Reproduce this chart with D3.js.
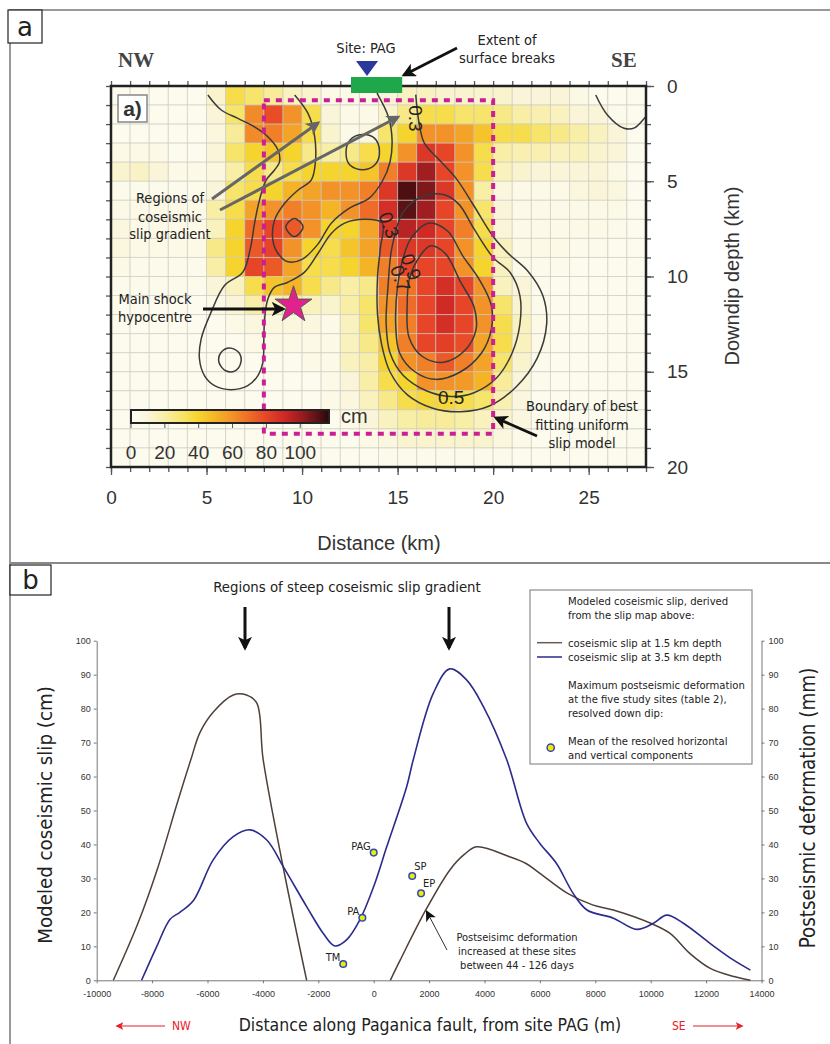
<!DOCTYPE html>
<html><head><meta charset="utf-8">
<script src="https://cdn.jsdelivr.net/npm/d3@7"></script>
<style>
body{margin:0;background:#fff;}
svg{display:block;}
.ann{font-family:'DejaVu Sans Condensed','DejaVu Sans',sans-serif;font-stretch:condensed;fill:#222;}
.hel{font-family:'Liberation Sans',Arial,sans-serif;fill:#333;}
</style></head>
<body><svg id="c" width="830" height="1044"></svg>
<script>
// ---------------- DATA ----------------
// Panel a: coseismic slip (cm), 1 km x 1 km cells, rows = depth 0..19 km, cols = distance 0..27 km
const slipGrid = [
 [3,3,3,3,3,12,35,30,22,15,12,5,5,5,10,15,15,12,12,12,12,10,10,10,6,3,3,3],
 [3,3,3,3,3,10,30,62,78,60,35,10,5,5,12,25,35,35,30,30,25,20,18,15,10,10,4,3],
 [3,3,3,3,3,8,22,62,65,55,35,12,5,8,30,40,60,60,55,45,35,35,30,25,20,15,10,3],
 [5,5,5,3,3,10,30,40,45,40,25,20,25,35,40,60,85,80,60,35,20,18,18,15,15,12,10,3],
 [12,14,10,5,5,8,20,35,25,35,40,40,40,45,65,85,100,80,60,35,15,12,10,10,10,10,5,3],
 [4,4,4,4,4,10,30,35,40,50,55,60,60,65,85,112,105,85,60,20,8,5,5,5,8,10,8,3],
 [5,5,5,5,5,20,35,55,60,65,60,50,60,70,88,110,100,80,60,30,10,5,5,5,5,5,5,3],
 [8,5,5,5,5,15,40,70,80,75,60,40,40,55,85,95,90,80,65,35,10,5,5,5,5,5,4,3],
 [8,5,5,5,5,25,40,75,80,60,40,35,45,55,75,85,85,80,60,40,15,5,5,5,4,4,3,3],
 [5,4,4,4,4,20,40,80,75,55,35,35,40,50,65,80,80,80,60,40,15,5,4,4,3,3,3,3],
 [4,4,4,4,4,10,15,35,45,50,35,25,20,25,65,68,80,88,80,60,15,10,4,3,3,3,3,3],
 [3,3,3,3,3,5,10,20,15,20,15,12,20,30,60,70,80,90,80,60,30,12,4,3,3,3,3,3],
 [3,3,3,3,3,3,5,8,8,8,8,5,15,30,55,65,80,88,80,60,35,15,5,3,3,3,3,3],
 [3,3,3,3,3,3,3,5,5,5,5,5,15,25,45,65,80,82,78,55,35,15,5,3,3,3,3,3],
 [3,3,3,3,3,3,3,3,3,3,5,5,15,20,40,60,65,75,65,55,30,12,4,3,3,3,3,3],
 [3,3,3,3,3,3,3,3,3,3,3,5,10,20,35,40,60,60,58,50,22,10,4,3,3,3,3,3],
 [3,3,3,3,3,3,3,3,3,3,3,5,8,15,25,35,38,38,35,30,18,8,3,3,3,3,3,3],
 [3,3,3,3,3,3,3,3,3,3,3,3,5,10,15,20,22,22,20,15,12,8,3,3,3,3,3,3],
 [3,3,3,3,3,3,3,3,3,3,3,3,3,5,8,12,12,12,12,12,8,5,3,3,3,3,3,3],
 [3,3,3,3,3,3,3,3,3,3,3,3,3,3,4,4,4,4,4,4,4,3,3,3,3,3,3,3]
];
const colorStops = [0,10,20,30,40,50,60,70,80,90,100,110,117];
const colorValues = ['#fdfdf6','#faf5d8','#f8eea6','#f7e46a','#f6d42e','#f4b426','#f29228','#ee6c28','#e64528','#cf2a25','#a01d20','#5c1215','#260808'];
const colorbarTicks = [0,20,40,60,80,100];
const distTicksA = [0,5,10,15,20,25];
const depthTicksA = [0,5,10,15,20];
// contours [distance km, depth km]
const contourOuter03 = [[5.07,0.47],[5.77,1.26],[6.64,1.7],[7.51,2.14],[8.21,2.66],[8.74,3.36],[8.82,3.98],[8.56,4.41],[8.12,4.94],[7.77,5.99],[7.51,7.22],[7.3,8.5],[6.9,9.77],[5.94,10.47],[5.24,11.87],[4.72,13.27],[4.63,14.33],[4.89,15.2],[5.42,15.73],[6.29,15.94],[7.16,15.73],[7.69,15.2],[7.95,14.5],[8.0,13.27],[8.04,12.23],[8.21,11.18],[8.56,10.56],[9.26,10.3],[10.13,9.77],[10.83,8.79],[11.53,7.74],[12.23,7.2],[13.28,7.0],[14.2,7.2],[14.1,8.5],[13.95,10],[13.95,12],[14.15,13.5],[14.6,15.0],[15.5,16.2],[16.8,16.9],[18.3,17.1],[19.8,16.8],[21.2,15.8],[22.3,14.3],[22.8,12.5],[22.6,11],[21.8,9.7],[20.8,8.8],[20,7.9],[19.0,6.3],[18.1,4.9],[17.2,3.9],[16.4,3.0],[16.1,1.8],[15.95,0.45]];
const contourInner = [[9.61,0.47],[10.31,1.44],[10.66,2.66],[10.69,4.06],[10.48,4.94],[9.78,5.47],[9.08,6.17],[8.56,7.04],[8.47,8.09],[8.74,8.79],[9.26,9.23],[10.0,9.1],[10.83,8.3],[11.53,7.2],[12.5,6.4],[13.5,5.9],[14.2,5.0],[14.6,4.0],[14.71,2.84],[14.52,1.63],[13.92,0.38]];
const contour05 = [[15.3,6.6],[16.3,5.8],[17.4,5.7],[18.2,6.2],[19.0,7.5],[20.0,9.0],[20.9,9.8],[21.4,11],[21.4,12.5],[21.0,14],[20.2,15.3],[19.0,16.1],[17.8,16.3],[16.5,16.0],[15.3,15.2],[14.6,14],[14.4,12.5],[14.5,10.5],[14.7,8.5]];
const contour07 = [[15.7,8.0],[16.6,7.2],[17.6,7.6],[18.4,8.9],[19.3,10.2],[19.9,11.5],[19.9,12.8],[19.4,14],[18.3,15.0],[17.0,15.4],[15.9,15.0],[15.1,14.0],[14.9,12.5],[15.0,10.5],[15.3,9.0]];
const contour09 = [[16.0,9.2],[16.7,8.4],[17.5,8.8],[18.3,10.3],[19.0,11.6],[19.1,12.8],[18.5,13.9],[17.4,14.5],[16.3,14.2],[15.6,13.2],[15.5,11.5],[15.6,10.2]];
const contourCircleA = [[13.15,2.55],[13.8,2.75],[14.05,3.4],[13.85,4.1],[13.2,4.4],[12.5,4.15],[12.3,3.5],[12.5,2.85]];
const contourCircleB = [[6.2,13.75],[6.7,14.0],[6.8,14.5],[6.5,14.95],[6.0,14.95],[5.65,14.5],[5.75,14.0]];
const contourCircleC = [[9.6,6.95],[10.05,7.4],[9.6,7.9],[9.15,7.4]];
const contourCorner = [[25.37,0.47],[25.98,1.52],[26.85,2.22],[27.4,2.2],[28.0,1.58]];
const contourLabels = [
  {t:'0.3',x:15.95,d:1.7,r:90},{t:'0.3',x:14.55,d:7.3,r:70},
  {t:'0.7',x:15.15,d:10.1,r:70},{t:'0.9',x:15.7,d:9.5,r:70},{t:'0.5',x:17.8,d:16.35,r:0}];
const uniformBox = [8,0.75,20,18.25]; // x0, d0, x1, d1
const hypocentre = [9.55,11.5];
const sitePAG = 13.4;
const surfaceBreaks = [12.56,15.24];

// Panel b
const dist15a = [-9400,-8500,-7800,-7100,-6600,-6270,-5790,-5070,-4590,-4220,-3990,-3260,-2420];
const slip15a = [0,17,33,52,65,73,79,84,84,81.6,65,33,0];
const dist15b = [600,960,1900,2750,3260,3720,4900,5500,6000,7000,7900,8650,10000,10700,11400,12150,13000,13600];
const slip15b = [0,6,21,32.5,37,39.3,36.4,34.4,31.5,25.6,22.2,20.7,16.8,13.8,8,3.5,1.1,0];
const dist35 = [-8380,-7830,-7350,-7000,-6500,-5800,-5070,-4470,-3860,-3260,-2420,-1820,-1400,-980,-500,0,470,1190,1430,2150,2750,3360,3960,4800,5520,6000,6600,7200,7700,8650,9500,10100,10580,11180,12140,12980,13600];
const slip35 = [0,10,18,20,23.6,35.4,42.3,44.3,41.3,33.4,21.7,13.8,10.1,11.9,17.8,27.6,39.3,57,65,84.5,91.7,88.4,80.6,65,46.2,40.3,34.4,25.6,20.7,18.3,15,16.8,19.2,16.8,10.9,6,3];
const siteNames = ['TM','PA','PAG','SP','EP'];
const siteDist = [-1100,-410,0,1390,1710];
const siteDeform = [4.8,18.4,37.6,30.7,25.6];
const siteLabelSide = ['end','end','end','start','start'];
const xTicksB = [-10000,-8000,-6000,-4000,-2000,0,2000,4000,6000,8000,10000,12000,14000];
const yTicksB = [0,10,20,30,40,50,60,70,80,90,100];

// ---------------- DRAW ----------------
const svg = d3.select('#c');
svg.append('rect').attr('width',830).attr('height',1044).attr('fill','#fff');
const defs = svg.append('defs');
function marker(id,color,size){
  defs.append('marker').attr('id',id).attr('viewBox','0 0 10 10').attr('refX',8).attr('refY',5)
   .attr('markerWidth',size).attr('markerHeight',size).attr('orient','auto').attr('markerUnits','userSpaceOnUse')
   .append('path').attr('d','M0,0 L10,5 L0,10 L2.5,5 Z').attr('fill',color);
}
marker('mk',  '#111', 14);
marker('mg',  '#666', 14);
marker('mr',  '#e8202a', 8);
marker('ms',  '#111', 11);

// panel frames
svg.append('path').attr('d','M10,830 V10 H830').attr('fill','none').attr('stroke','#999').attr('stroke-width',2);
svg.append('line').attr('x1',10).attr('x2',830).attr('y1',563).attr('y2',563).attr('stroke','#888').attr('stroke-width',2);
svg.append('line').attr('x1',10).attr('x2',10).attr('y1',10).attr('y2',1044).attr('stroke','#999').attr('stroke-width',2);
function panelLabel(x,y,w,h,t){
  svg.append('rect').attr('x',x).attr('y',y).attr('width',w).attr('height',h).attr('fill','#fff').attr('stroke','#222').attr('stroke-width',1.2);
  svg.append('text').attr('x',x+w/2).attr('y',y+h/2+9).attr('text-anchor','middle')
   .style('font-family',"'DejaVu Sans',sans-serif").style('font-size','26px').style('fill','#222').text(t);
}
panelLabel(8,10,34,33,'a');
panelLabel(10,565,41,30,'b');

// ---- Panel a ----
const xA = d3.scaleLinear([0,28],[111,646]);
const yA = d3.scaleLinear([0,20],[86,467]);
const color = d3.scaleLinear(colorStops,colorValues).clamp(true);
const gA = svg.append('g');
slipGrid.forEach((row,j)=>row.forEach((v,i)=>{
  gA.append('rect').attr('x',xA(i)).attr('y',yA(j)).attr('width',xA(i+1)-xA(i)).attr('height',yA(j+1)-yA(j))
    .attr('fill',color(v)).attr('stroke','#c8c8c0').attr('stroke-opacity',0.6).attr('stroke-width',1);
}));

// contours
const lineA = d3.line().x(d=>xA(d[0])).y(d=>yA(d[1])).curve(d3.curveCatmullRom.alpha(0.5));
const lineAc = d3.line().x(d=>xA(d[0])).y(d=>yA(d[1])).curve(d3.curveCatmullRomClosed.alpha(0.5));
const cg = gA.append('g').attr('fill','none').attr('stroke','#3a3a3a').attr('stroke-width',1.5);
[contourOuter03,contourInner,contourCorner].forEach(c=>cg.append('path').attr('d',lineA(c)));
[contour05,contour07,contour09,contourCircleA,contourCircleB,contourCircleC].forEach(c=>cg.append('path').attr('d',lineAc(c)));
contourLabels.forEach(l=>{
  gA.append('text').attr('class','hel').attr('transform',`translate(${xA(l.x)},${yA(l.d)}) rotate(${l.r})`)
   .attr('text-anchor','middle').attr('dy','0.35em').style('font-size','19px').style('fill','#222').text(l.t);
});

// uniform slip box
gA.append('rect').attr('x',xA(uniformBox[0])).attr('y',yA(uniformBox[1]))
  .attr('width',xA(uniformBox[2])-xA(uniformBox[0])).attr('height',yA(uniformBox[3])-yA(uniformBox[1]))
  .attr('fill','none').attr('stroke','#cc1f95').attr('stroke-width',4).attr('stroke-dasharray','6,6');

// star
const star = d3.symbol().type(d3.symbolStar).size(420);
gA.append('path').attr('d',star()).attr('transform',`translate(${xA(hypocentre[0])},${yA(hypocentre[1])})`)
  .attr('fill','#e0228f').attr('stroke','#555').attr('stroke-width',1);

// colorbar
const cb = d3.scaleLinear([0,117],[131,329]);
const grad = defs.append('linearGradient').attr('id','cbg');
colorStops.forEach((s,i)=>grad.append('stop').attr('offset',(s/117*100)+'%').attr('stop-color',colorValues[i]));
gA.append('rect').attr('x',cb(0)).attr('y',410).attr('width',cb(117)-cb(0)).attr('height',13).attr('fill','url(#cbg)').attr('stroke','#222').attr('stroke-width',2);
colorbarTicks.forEach(t=>{
  gA.append('line').attr('x1',cb(t)).attr('x2',cb(t)).attr('y1',424).attr('y2',428).attr('stroke','#555');
  gA.append('text').attr('class','hel').attr('x',cb(t)).attr('y',459).attr('text-anchor','middle').style('font-size','19px').text(t);
});
gA.append('text').attr('class','hel').attr('x',341).attr('y',423).style('font-size','20px').text('cm');

// frame + ticks
const tickStyle = s=>s.selectAll('line').attr('stroke','#555').attr('stroke-width',1.3);
const minor = d3.range(0,29);
const axB = svg.append('g').attr('transform','translate(0,467)').call(d3.axisBottom(xA).tickValues(minor).tickSize(5).tickFormat(''));
const axT = svg.append('g').attr('transform','translate(0,86)').call(d3.axisTop(xA).tickValues(minor).tickSize(5).tickFormat(''));
const axL = svg.append('g').attr('transform','translate(111,0)').call(d3.axisLeft(yA).tickValues(d3.range(0,21)).tickSize(5).tickFormat(''));
const axR = svg.append('g').attr('transform','translate(646,0)').call(d3.axisRight(yA).tickValues(d3.range(0,21)).tickSize(5).tickFormat(''));
const axB5 = svg.append('g').attr('transform','translate(0,467)').call(d3.axisBottom(xA).tickValues(distTicksA).tickSize(8).tickPadding(16));
const axR5 = svg.append('g').attr('transform','translate(646,0)').call(d3.axisRight(yA).tickValues(depthTicksA).tickSize(8).tickPadding(13));
[axB,axT,axL,axR,axB5,axR5].forEach(a=>{a.select('.domain').remove(); tickStyle(a);});
[axB5,axR5].forEach(a=>a.selectAll('text').attr('class','hel').style('font-size','19px').style('fill','#333').attr('font-family',null));
svg.append('rect').attr('x',111).attr('y',86).attr('width',535).attr('height',381).attr('fill','none').attr('stroke','#222').attr('stroke-width',2.5);

// a) box
svg.append('rect').attr('x',118).attr('y',95).attr('width',29).attr('height',27).attr('fill','#fff').attr('stroke','#888').attr('stroke-width',1.5);
svg.append('text').attr('class','hel').attr('x',132.5).attr('y',116).attr('text-anchor','middle').style('font-size','21px').style('font-weight','bold').style('fill','#333').text('a)');

// axis titles
svg.append('text').attr('class','hel').attr('x',379).attr('y',550).attr('text-anchor','middle').style('font-size','20px').text('Distance (km)');
svg.append('text').attr('class','hel').attr('transform','translate(739,276) rotate(-90)').attr('text-anchor','middle').style('font-size','20px').text('Downdip depth (km)');
const serif = s=>s.style('font-family',"'Liberation Serif','Times New Roman',serif").style('font-size','21px').style('font-weight','bold').style('fill','#444');
svg.append('text').attr('x',118).attr('y',67).call(serif).text('NW');
svg.append('text').attr('x',611).attr('y',67).call(serif).text('SE');

// site + surface breaks
svg.append('rect').attr('x',xA(surfaceBreaks[0])).attr('y',77).attr('width',xA(surfaceBreaks[1])-xA(surfaceBreaks[0])).attr('height',16).attr('fill','#1ea84b');
svg.append('path').attr('d',`M${xA(sitePAG)-11},61 L${xA(sitePAG)+11},61 L${xA(sitePAG)},76 Z`).attr('fill','#2b3a9a');
const ann = (x,y,t,anchor='middle',size=13)=>svg.append('text').attr('class','ann').attr('x',x).attr('y',y).attr('text-anchor',anchor).style('font-size',size+'px').text(t);
const AS = 14.5;
ann(366,53,'Site: PAG','middle',AS);
ann(507,45,'Extent of','middle',AS); ann(507,63,'surface breaks','middle',AS);
ann(170,203,'Regions of','middle',AS); ann(170,222,'coseismic','middle',AS); ann(170,239,'slip gradient','middle',AS);
ann(155,304,'Main shock','middle',AS); ann(155,322,'hypocentre','middle',AS);
ann(582,411,'Boundary of best','middle',AS); ann(582,429.5,'fitting uniform','middle',AS); ann(582,448,'slip model','middle',AS);
const arrow = (x1,y1,x2,y2,col,mk,w)=>svg.append('line').attr('x1',x1).attr('y1',y1).attr('x2',x2).attr('y2',y2).attr('stroke',col).attr('stroke-width',w).attr('marker-end',`url(#${mk})`);
arrow(457,48,404,75,'#111','mk',2.8);
arrow(212,199,318,123,'#666','mg',3);
arrow(220,210,398,117,'#666','mg',3);
arrow(203,309,283,309,'#111','mk',2.8);
arrow(537,436,496,418,'#111','mk',2.8);

// ---- Panel b ----
const xB = d3.scaleLinear([-10000,14000],[96.7,761.5]);
const yB = d3.scaleLinear([0,100],[980.3,640.7]);
const gB = svg.append('g');
const plain = d=>String(d);
const axStyle = a=>{a.selectAll('path,line').attr('stroke','#777'); a.selectAll('text').style('font-family',"'Liberation Sans',Arial,sans-serif").style('font-size','9px').style('fill','#333');};
gB.append('g').attr('transform','translate(96.7,0)').call(d3.axisLeft(yB).tickValues(yTicksB).tickFormat(plain).tickSize(3).tickSizeOuter(0).tickPadding(3)).call(axStyle);
gB.append('g').attr('transform','translate(761.5,0)').call(d3.axisRight(yB).tickValues(yTicksB).tickFormat(plain).tickSize(3).tickSizeOuter(0).tickPadding(4)).call(axStyle);
gB.append('g').attr('transform','translate(0,980.3)').call(d3.axisBottom(xB).tickValues(xTicksB).tickFormat(plain).tickSize(3).tickSizeOuter(0).tickPadding(7)).call(axStyle);

const lineB = d3.line().x(d=>xB(d[0])).y(d=>yB(d[1])).curve(d3.curveCatmullRom.alpha(0.5));
gB.append('path').attr('d',lineB(d3.zip(dist15a,slip15a))).attr('fill','none').attr('stroke','#4e4038').attr('stroke-width',1.5);
gB.append('path').attr('d',lineB(d3.zip(dist15b,slip15b))).attr('fill','none').attr('stroke','#4e4038').attr('stroke-width',1.5);
gB.append('path').attr('d',lineB(d3.zip(dist35,slip35))).attr('fill','none').attr('stroke','#2b2b8c').attr('stroke-width',1.6);

siteNames.forEach((n,i)=>{
  const px=xB(siteDist[i]), py=yB(siteDeform[i]);
  gB.append('circle').attr('cx',px).attr('cy',py).attr('r',3.3).attr('fill','#f5e800').attr('stroke','#2a4ab8').attr('stroke-width',1.5);
  const st = siteLabelSide[i]==='end';
  gB.append('text').attr('class','ann').attr('x',st?px-3:px+2).attr('y',st?py-3:py-6).attr('text-anchor',siteLabelSide[i]).style('font-size','11px').text(n);
});

// title + arrows
ann(347,592,'Regions of steep coseismic slip gradient','middle',14.8);
arrow(245,607,245,648,'#111','mk',3);
arrow(449,607,449,648,'#111','mk',3);

// legend
gB.append('rect').attr('x',530).attr('y',590).attr('width',222).attr('height',174).attr('fill','#fff').attr('stroke','#777').attr('stroke-width',1);
const lt = (y,t)=>ann(568,y,t,'start',11.2);
lt(604.5,'Modeled coseismic slip, derived'); lt(618.5,'from the slip map above:');
lt(646.5,'coseismic slip at 1.5 km depth'); lt(661,'coseismic slip at 3.5 km depth');
lt(689,'Maximum postseismic deformation'); lt(703,'at the five study sites (table 2),'); lt(717,'resolved down dip:');
lt(745,'Mean of the resolved horizontal'); lt(759,'and vertical components');
gB.append('line').attr('x1',537).attr('x2',562).attr('y1',642.7).attr('y2',642.7).attr('stroke','#6a5a52').attr('stroke-width',1.5);
gB.append('line').attr('x1',537).attr('x2',562).attr('y1',657).attr('y2',657).attr('stroke','#2b2b8c').attr('stroke-width',1.5);
gB.append('circle').attr('cx',550.7).attr('cy',747.7).attr('r',3.6).attr('fill','#f5e800').attr('stroke','#2a4ab8').attr('stroke-width',1.5);

// annotation
ann(517,940.5,'Postseisimc deformation','middle',11);
ann(517,954.5,'increased at these sites','middle',11);
ann(517,968.5,'between 44 - 126 days','middle',11);
arrow(447,950,427,912,'#333','ms',1);

// axis titles b
ann(0,0,'Modeled coseismic slip (cm)','middle',20.3).attr('transform','translate(52,815) rotate(-90)').attr('x',null).attr('y',null);
ann(0,0,'Postseismic deformation (mm)','middle',20.4).attr('transform','translate(815,808) rotate(-90)').attr('x',null).attr('y',null);
ann(430,1031,'Distance along Paganica fault, from site PAG (m)','middle',17.5);
// NW / SE
arrow(165,1026,117,1026,'#e8202a','mr',1.2);
ann(172,1030,'NW','start',12).style('fill','#e8202a');
ann(672,1030,'SE','start',12).style('fill','#e8202a');
arrow(693,1026,742,1026,'#e8202a','mr',1.2);
</script></body></html>
